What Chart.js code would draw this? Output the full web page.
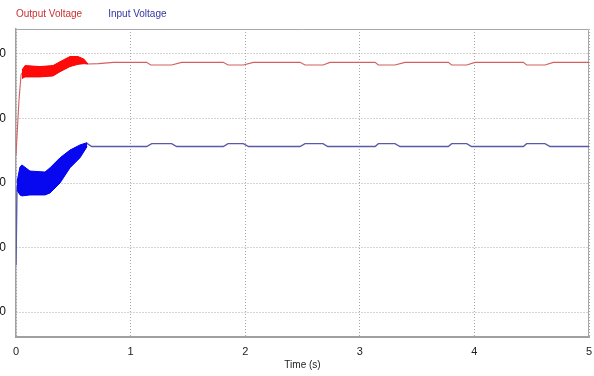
<!DOCTYPE html>
<html>
<head>
<meta charset="utf-8">
<script src="https://cdn.jsdelivr.net/npm/chart.js@4.4.0/dist/chart.umd.min.js"></script>
<style>
  html, body { margin: 0; padding: 0; background: #fff; }
</style>
</head>
<body>
<canvas id="chart" width="594" height="376"></canvas>
<script>
const timeTicks = [0, 1, 2, 3, 4, 5];
const voltageTicks = [20, 40, 60, 80, 100];
const seriesNames = ["Output Voltage", "Input Voltage"];

// output voltage (red)
const outputTime = [0, 0.026, 0.044, 0.06, 0.2, 0.32, 0.38, 0.47, 0.54, 0.59, 0.63, 0.72, 0.85,
    1.140, 1.175, 1.358, 1.445,
    1.809, 1.850, 1.983, 2.071,
    2.478, 2.522, 2.679, 2.740,
    3.133, 3.162, 3.307, 3.394,
    3.772, 3.802, 3.933, 4.005,
    4.427, 4.456, 4.616, 4.689,
    5];
const outputVoltage = [68.7, 85.7, 93.5, 94.5, 94.6, 94.9, 96.0, 97.6, 98.0, 97.7, 96.9, 97.0, 97.4,
    97.4, 96.6, 96.6, 97.4,
    97.4, 96.6, 96.6, 97.4,
    97.4, 96.6, 96.6, 97.4,
    97.4, 96.6, 96.6, 97.4,
    97.4, 96.6, 96.6, 97.4,
    97.4, 96.6, 96.6, 97.4,
    97.4];

// ripple band of the output during start-up
const outputRippleTime = [0.052, 0.079, 0.209, 0.323, 0.384, 0.471, 0.541, 0.593, 0.628];
const outputRippleHigh = [95.0, 96.4, 96.1, 96.4, 97.6, 99.2, 99.2, 98.4, 96.9];
const outputRippleLow = [92.4, 92.9, 92.9, 93.2, 94.5, 96.1, 96.8, 97.0, 96.9];

// input voltage (blue)
const inputTime = [0, 0.009, 0.05, 0.25, 0.38, 0.47, 0.56, 0.62, 0.66,
    1.140, 1.184, 1.358, 1.402,
    1.809, 1.850, 1.983, 2.030,
    2.478, 2.522, 2.679, 2.720,
    3.133, 3.162, 3.307, 3.350,
    3.772, 3.802, 3.933, 3.975,
    4.427, 4.456, 4.616, 4.660,
    5];
const inputVoltage = [34.6, 59.0, 61.0, 60.0, 64.0, 67.5, 69.8, 72.3, 71.3,
    71.3, 72.2, 72.2, 71.3,
    71.3, 72.2, 72.2, 71.3,
    71.3, 72.2, 72.2, 71.3,
    71.3, 72.2, 72.2, 71.3,
    71.3, 72.2, 72.2, 71.3,
    71.3, 72.2, 72.2, 71.3,
    71.3];

const inputRippleTime = [0.009, 0.035, 0.052, 0.122, 0.253, 0.297, 0.384, 0.471, 0.558, 0.62];
const inputRippleHigh = [60.3, 65.0, 65.6, 63.7, 63.4, 64.7, 67.8, 70.2, 71.8, 72.5];
const inputRippleLow = [57.8, 56.3, 56.0, 56.3, 56.3, 56.9, 60.0, 64.7, 67.8, 71.3];

const legendColors = ["#c83232", "#3434a4"];

function points(xs, ys) {
    return xs.map((x, i) => ({ x: x, y: ys[i] }));
}

// draws the top and right edges of the plot box
const framePlugin = {
    id: "frame",
    beforeDatasetsDraw(chart) {
        const { ctx, chartArea: a } = chart;
        ctx.save();
        ctx.strokeStyle = "#a8a8a8";
        ctx.lineWidth = 1;
        ctx.beginPath();
        ctx.moveTo(a.left, a.top + 0.5);
        ctx.lineTo(a.right - 0.5, a.top + 0.5);
        ctx.lineTo(a.right - 0.5, a.bottom);
        ctx.stroke();
        ctx.restore();
    }
};

const ctx = document.getElementById("chart").getContext("2d");

const chart = new Chart(ctx, {
    type: "line",
    data: {
        datasets: [
            {
                label: seriesNames[0],
                data: points(outputTime, outputVoltage),
                borderColor: "#d26060",
                borderWidth: 1.1,
                pointRadius: 0,
                fill: false,
                order: 1
            },
            {
                label: seriesNames[1],
                data: points(inputTime, inputVoltage),
                borderColor: "#5a5aa8",
                borderWidth: 1.4,
                pointRadius: 0,
                fill: false,
                order: 1
            },
            {
                label: "output ripple high",
                data: points(outputRippleTime, outputRippleHigh),
                borderColor: "#ff0000",
                borderWidth: 1,
                pointRadius: 0,
                fill: false
            },
            {
                label: "output ripple low",
                data: points(outputRippleTime, outputRippleLow),
                borderColor: "#ff0000",
                backgroundColor: "#ff0a0a",
                borderWidth: 1,
                pointRadius: 0,
                fill: "-1"
            },
            {
                label: "input ripple high",
                data: points(inputRippleTime, inputRippleHigh),
                borderColor: "#0000f0",
                borderWidth: 1,
                pointRadius: 0,
                fill: false
            },
            {
                label: "input ripple low",
                data: points(inputRippleTime, inputRippleLow),
                borderColor: "#0000f0",
                backgroundColor: "#0808f0",
                borderWidth: 1,
                pointRadius: 0,
                fill: "-1"
            }
        ]
    },
    options: {
        responsive: false,
        animation: false,
        layout: {
            padding: { left: -10, right: 5, top: 0, bottom: 0 }
        },
        plugins: {
            tooltip: { enabled: false },
            legend: {
                position: "top",
                align: "start",
                labels: {
                    boxWidth: 12,
                    boxHeight: 1,
                    padding: 9,
                    font: { family: "'Liberation Sans', Arial", size: 10 },
                    generateLabels: function (chart) {
                        return seriesNames.map(function (name, i) {
                            return {
                                text: name,
                                fontColor: legendColors[i],
                                fillStyle: "rgba(0,0,0,0)",
                                strokeStyle: "rgba(0,0,0,0)",
                                lineWidth: 0,
                                datasetIndex: i,
                                hidden: false
                            };
                        });
                    }
                }
            }
        },
        scales: {
            x: {
                type: "linear",
                min: 0,
                max: 5,
                afterBuildTicks: function (scale) {
                    scale.ticks = timeTicks.map(v => ({ value: v }));
                },
                afterFit: function (scale) {
                    scale.height = 39;
                    // only half of the "5" label needs room on the right
                    scale.paddingRight = 3;
                },
                ticks: {
                    color: "#222",
                    padding: 8,
                    font: { family: "'Liberation Sans', Arial", size: 11 }
                },
                grid: {
                    color: "#a8a8a8",
                    drawTicks: false
                },
                border: {
                    color: "#a0a0a0",
                    width: 2,
                    dash: [1, 2]
                },
                title: {
                    display: true,
                    text: "Time (s)",
                    color: "#222",
                    padding: { top: 0, bottom: 5 },
                    font: { family: "'Liberation Sans', Arial", size: 10 }
                }
            },
            y: {
                min: 12.25,
                max: 107.75,
                afterBuildTicks: function (scale) {
                    scale.ticks = voltageTicks.map(v => ({ value: v }));
                },
                afterFit: function (scale) {
                    scale.width = 26;
                },
                ticks: {
                    color: "#111",
                    padding: 10,
                    font: { family: "'Liberation Sans', Arial", size: 12 }
                },
                grid: {
                    color: "#a8a8a8",
                    drawTicks: false
                },
                border: {
                    color: "#a0a0a0",
                    width: 1.5,
                    dash: [1, 2]
                }
            }
        }
    },
    plugins: [framePlugin]
});
</script>
</body>
</html>
